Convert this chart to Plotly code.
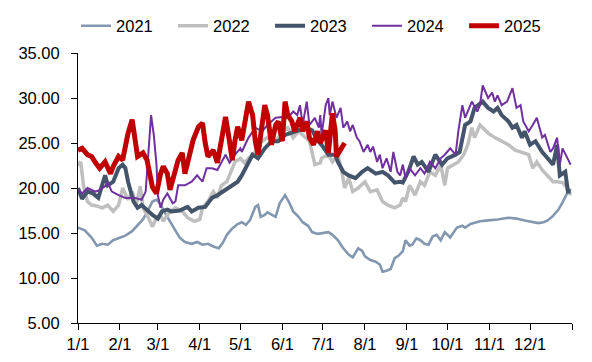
import plotly.graph_objects as go

# x positions: day offset from Jan 1 (non-leap year)
month_ticks = [0, 31, 59, 90, 120, 151, 181, 212, 243, 273, 304, 334, 365]
month_labels = ["1/1", "2/1", "3/1", "4/1", "5/1", "6/1", "7/1", "8/1", "9/1", "10/1", "11/1", "12/1", ""]

days_2021 = [0, 5, 10, 14, 18, 22, 26, 30, 35, 40, 44, 48, 51, 55, 58, 61, 64, 68, 72, 75, 79, 84, 88, 92, 96, 100, 104, 107, 110, 114, 118, 121, 124, 127, 131, 133, 135, 138, 140, 143, 146, 149, 153, 156, 159, 163, 166, 170, 173, 177, 181, 185, 188, 192, 196, 200, 203, 207, 210, 212, 216, 220, 223, 225, 228, 231, 234, 237, 240, 242, 245, 247, 250, 253, 256, 259, 262, 265, 268, 271, 275, 277, 280, 284, 286, 290, 293, 297, 303, 310, 318, 324, 330, 336, 340, 344, 347, 351, 355, 358, 361, 364]
vals_2021 = [15.6, 15.3, 14.5, 13.6, 13.8, 13.7, 14.2, 14.4, 14.7, 15.2, 15.8, 16.5, 17.3, 18.5, 18.7, 18.2, 17.3, 16.3, 15.3, 14.5, 14.0, 13.8, 14.0, 13.7, 13.8, 13.5, 13.3, 13.9, 14.8, 15.5, 16.0, 16.2, 15.9, 16.4, 17.9, 18.1, 16.8, 17.0, 17.3, 17.0, 16.8, 18.3, 19.2, 18.4, 17.4, 16.8, 16.2, 15.8, 15.1, 14.9, 15.0, 15.1, 14.8, 14.2, 13.3, 12.6, 12.3, 13.3, 13.0, 12.4, 12.0, 11.8, 11.5, 10.7, 10.8, 11.0, 12.2, 12.5, 13.0, 14.2, 13.6, 13.7, 14.4, 14.2, 13.8, 13.7, 14.6, 14.8, 14.2, 15.1, 14.5, 15.0, 15.6, 15.8, 15.6, 16.0, 16.1, 16.3, 16.4, 16.5, 16.7, 16.6, 16.4, 16.2, 16.1, 16.2, 16.4, 16.9, 17.6, 18.4, 19.3, 19.9]

days_2022 = [0, 2, 4, 7, 10, 14, 18, 22, 26, 30, 33, 37, 40, 43, 46, 48, 52, 55, 58, 61, 63, 67, 72, 77, 81, 86, 90, 92, 96, 100, 103, 106, 110, 114, 116, 120, 123, 126, 131, 136, 140, 146, 151, 155, 159, 163, 168, 171, 175, 179, 180, 185, 188, 192, 195, 197, 200, 203, 207, 212, 216, 221, 225, 229, 234, 238, 240, 242, 245, 249, 253, 256, 260, 264, 268, 271, 273, 277, 281, 285, 288, 291, 293, 297, 299, 303, 308, 313, 318, 323, 328, 333, 336, 339, 343, 347, 351, 354, 358, 361, 364]
vals_2022 = [22.5, 22.9, 20.3, 18.5, 18.1, 18.0, 17.8, 18.1, 17.4, 18.1, 20.0, 18.7, 19.6, 18.1, 20.2, 17.8, 16.7, 15.7, 16.7, 17.0, 16.3, 17.2, 17.8, 17.4, 16.7, 16.3, 16.5, 17.8, 18.5, 19.6, 18.9, 20.3, 20.7, 22.2, 22.9, 23.3, 22.8, 23.3, 24.0, 25.2, 25.6, 25.2, 26.3, 26.7, 25.6, 26.3, 25.6, 25.2, 22.6, 22.8, 23.3, 23.7, 22.9, 23.7, 21.8, 20.0, 21.1, 19.6, 20.0, 20.7, 19.6, 19.8, 18.5, 18.1, 17.8, 18.1, 18.9, 18.5, 20.3, 19.2, 20.7, 20.3, 21.8, 21.4, 22.6, 20.3, 22.2, 22.6, 22.9, 23.7, 24.8, 26.7, 25.6, 27.0, 26.7, 26.1, 25.6, 25.2, 24.8, 24.2, 24.0, 23.7, 22.2, 22.9, 22.0, 21.4, 20.7, 20.7, 20.6, 20.1, 19.2]

days_2023 = [0, 3, 7, 11, 15, 20, 22, 26, 30, 33, 35, 37, 41, 44, 47, 52, 55, 59, 62, 66, 69, 75, 77, 81, 84, 89, 94, 99, 103, 109, 114, 118, 121, 126, 129, 133, 138, 143, 148, 153, 158, 163, 168, 173, 177, 181, 185, 190, 192, 196, 200, 205, 210, 214, 220, 225, 229, 234, 238, 240, 244, 248, 251, 254, 259, 264, 269, 273, 279, 282, 286, 290, 293, 297, 299, 303, 307, 310, 313, 318, 321, 324, 328, 330, 334, 338, 343, 347, 351, 354, 356, 360, 362, 364]
vals_2023 = [20.0, 18.8, 19.6, 19.4, 18.9, 21.4, 20.3, 20.7, 22.2, 22.6, 22.2, 20.7, 18.5, 17.8, 18.1, 17.4, 17.0, 16.6, 17.4, 17.6, 17.4, 17.5, 17.6, 17.9, 17.4, 17.8, 17.9, 18.9, 19.2, 19.8, 20.3, 20.7, 21.4, 22.9, 23.7, 23.3, 24.4, 25.2, 25.2, 25.9, 26.1, 26.4, 26.7, 26.4, 25.3, 24.6, 23.7, 23.7, 22.9, 21.8, 21.4, 21.1, 21.8, 22.2, 21.6, 21.8, 21.4, 20.6, 20.7, 20.6, 21.8, 23.5, 22.6, 22.9, 21.8, 23.7, 22.6, 23.3, 23.7, 24.0, 27.0, 27.4, 28.9, 29.4, 29.6, 28.9, 28.5, 28.9, 28.1, 27.4, 26.7, 27.0, 25.6, 26.3, 24.8, 25.2, 24.0, 23.3, 22.6, 24.8, 21.4, 21.8, 19.6, 19.6]

days_2024 = [0, 3, 7, 13, 16, 20, 22, 25, 30, 35, 42, 47, 50, 52, 54, 56, 58, 59, 61, 63, 66, 70, 72, 74, 79, 84, 88, 92, 95, 99, 103, 109, 112, 116, 120, 121, 126, 131, 136, 140, 146, 151, 155, 159, 162, 164, 166, 169, 171, 175, 178, 179, 180, 183, 185, 186, 188, 191, 194, 196, 199, 201, 203, 206, 208, 211, 214, 216, 218, 221, 223, 225, 228, 231, 233, 236, 238, 240, 242, 245, 249, 253, 256, 260, 264, 268, 271, 275, 279, 281, 284, 286, 288, 291, 295, 297, 299, 303, 306, 308, 310, 313, 317, 321, 324, 327, 329, 333, 336, 339, 343, 345, 349, 351, 354, 356, 358, 362, 364]
vals_2024 = [19.8, 19.4, 20.0, 19.6, 19.8, 20.2, 20.6, 19.6, 19.2, 18.9, 18.9, 18.7, 19.6, 23.7, 28.1, 25.9, 22.6, 19.2, 17.8, 18.7, 19.4, 18.3, 18.5, 20.3, 20.3, 20.7, 21.4, 20.7, 22.2, 22.2, 22.0, 23.7, 22.8, 23.7, 24.4, 24.0, 25.6, 26.7, 26.3, 27.0, 27.8, 27.9, 27.8, 28.5, 28.1, 29.2, 27.0, 29.6, 27.0, 27.8, 26.7, 28.1, 25.9, 29.2, 30.0, 28.1, 29.6, 27.8, 28.9, 26.7, 27.4, 26.3, 27.0, 25.6, 25.2, 24.0, 24.8, 24.0, 24.6, 22.9, 23.7, 22.2, 23.3, 21.8, 24.0, 21.8, 21.4, 22.6, 21.1, 22.2, 21.4, 22.2, 21.6, 22.9, 22.2, 23.3, 23.7, 24.4, 23.7, 26.3, 29.2, 27.8, 28.5, 29.6, 28.5, 29.2, 31.4, 30.0, 30.6, 29.6, 30.3, 29.2, 29.6, 31.1, 28.9, 29.2, 27.4, 26.3, 27.0, 27.8, 25.6, 25.9, 24.0, 24.4, 25.6, 22.6, 24.4, 23.3, 22.6]

days_2025 = [0, 3, 7, 10, 13, 16, 20, 24, 26, 30, 33, 37, 40, 42, 44, 48, 51, 55, 58, 61, 63, 66, 68, 70, 74, 77, 79, 81, 85, 89, 92, 94, 96, 100, 103, 106, 109, 111, 114, 116, 118, 121, 123, 126, 129, 131, 133, 136, 138, 140, 143, 146, 148, 151, 153, 155, 158, 160, 164, 166, 169, 171, 174, 177, 179, 183, 185, 188, 190, 191, 194, 197]
vals_2025 = [24.2, 24.4, 23.7, 23.5, 22.8, 22.2, 22.9, 21.6, 22.4, 23.5, 23.1, 26.1, 27.6, 25.3, 23.5, 23.9, 23.1, 20.1, 19.4, 21.6, 22.4, 21.6, 19.8, 20.9, 23.1, 23.9, 21.6, 22.8, 25.3, 26.8, 27.2, 25.0, 23.5, 24.2, 22.8, 25.3, 27.9, 26.1, 23.1, 25.3, 26.8, 25.3, 27.0, 29.6, 28.1, 25.2, 23.7, 27.0, 29.2, 28.1, 24.8, 27.0, 27.4, 25.2, 29.6, 28.1, 27.4, 26.3, 27.8, 26.3, 27.4, 25.6, 24.8, 26.3, 25.0, 26.4, 23.9, 28.3, 26.4, 23.5, 24.2, 25.0]

series = [
    ("2021", days_2021, vals_2021, "#8497B0", 2.6),
    ("2022", days_2022, vals_2022, "#BFBFBF", 3.5),
    ("2023", days_2023, vals_2023, "#44546A", 4.0),
    ("2024", days_2024, vals_2024, "#7030A0", 2.0),
    ("2025", days_2025, vals_2025, "#C00000", 5.0),
]

fig = go.Figure()
for name, xs, ys, color, w in series:
    fig.add_trace(go.Scatter(x=xs, y=ys, name=name, mode="lines",
                             line=dict(color=color, width=w)))

font_family = "Liberation Sans, Arial, sans-serif"
# page body has an 8px default margin, so the figure is sized/offset to fit the window
fig.update_layout(
    width=584, height=354,
    margin=dict(l=70, r=20, t=45, b=39, autoexpand=False),
    paper_bgcolor="white", plot_bgcolor="white",
    font=dict(family=font_family, size=16.5, color="black"),
    showlegend=True,
    legend=dict(orientation="h", x=-0.004, xanchor="left", y=1.1, yanchor="middle",
                font=dict(size=16.5), bgcolor="rgba(0,0,0,0)", traceorder="normal",
                entrywidth=52, entrywidthmode="pixels", tracegroupgap=0),
)
fig.update_xaxes(range=[0, 365], tickmode="array", tickvals=month_ticks, ticktext=month_labels,
                 showline=True, linecolor="black", linewidth=1, ticks="outside", ticklen=6,
                 tickcolor="black", showgrid=False, zeroline=False, automargin=False)
fig.update_yaxes(range=[5, 35], dtick=5, tick0=5, tickformat=".2f",
                 showline=True, linecolor="black", linewidth=1, ticks="outside", ticklen=6,
                 tickcolor="black", showgrid=False, zeroline=False, automargin=False,
                 ticklabelstandoff=8)

fig.write_html("out.html")
